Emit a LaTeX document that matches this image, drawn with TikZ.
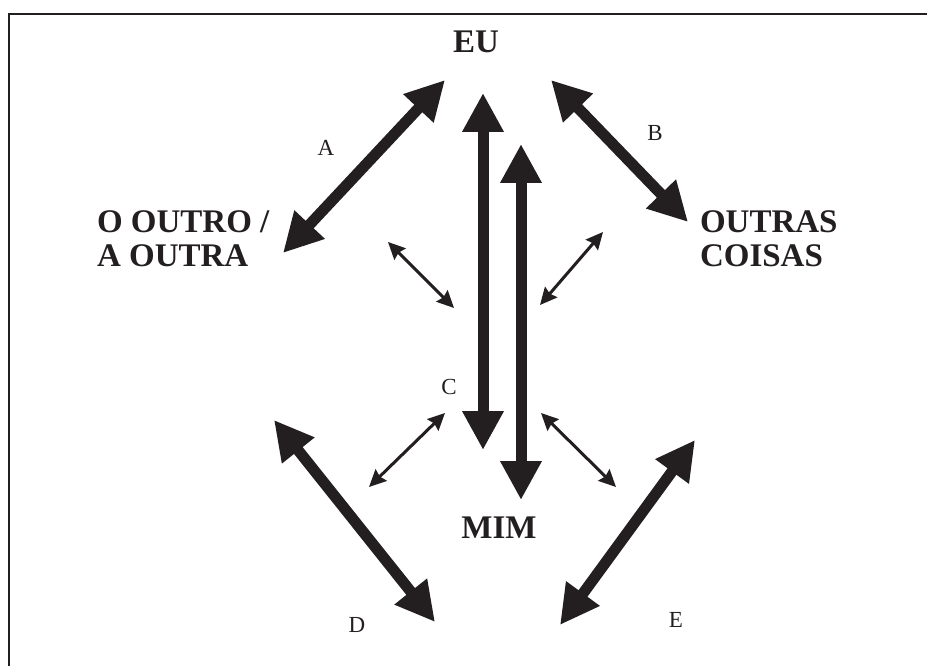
\documentclass[tikz,border=0pt]{standalone}
\usepackage{fontspec}
\setmainfont{Liberation Serif}
\usetikzlibrary{arrows.meta}
\definecolor{ink}{HTML}{231F20}

\begin{document}
\begin{tikzpicture}[x=1pt,y=-1pt]
\tikzset{every node/.style={inner sep=0pt, outer sep=0pt, text=ink}}
\tikzset{bigword/.style={font=\fontsize{33}{34}\selectfont\bfseries, align=left}}
\tikzset{letter/.style={font=\fontsize{23}{23}\selectfont}}
\tikzset{bigarrow/.style={draw=ink, line width=11pt, {Triangle[width=39pt,length=39pt]}-{Triangle[width=39pt,length=39pt]}}}
\tikzset{smallarrow/.style={draw=ink, line width=3pt, {Stealth[width=16pt,length=17pt,inset=2pt]}-{Stealth[width=16pt,length=17pt,inset=2pt]}}}
\useasboundingbox (0,0) rectangle (927,666);
%%%%%% frame
\draw[ink, line width=1.6pt] (927,14) -- (9,14) -- (9,666);

%%%%%% words
\node(eu)at(476,53)[bigword,anchor=base]{EU};
\node(outro)at(97,211)[bigword,anchor=north west]{O OUTRO /\\A OUTRA};
\node(coisas)at(700,211)[bigword,anchor=north west]{OUTRAS\\COISAS};
\node(mim)at(499,538)[bigword,anchor=base]{MIM};

%%%%%% letters
\node(la)at(326,148)[letter]{A};
\node(lb)at(655,133)[letter]{B};
\node(lc)at(449,387)[letter]{C};
\node(ld)at(357,625)[letter]{D};
\node(le)at(676,620)[letter]{E};

%%%%%% arrow ends
\coordinate(a1)at(445,80);  \coordinate(a2)at(283,253);
\coordinate(b1)at(551,80);  \coordinate(b2)at(688,222);
\coordinate(v1)at(483,93);  \coordinate(v2)at(483,450);
\coordinate(w1)at(521,144); \coordinate(w2)at(521,500);
\coordinate(d1)at(274,420); \coordinate(d2)at(435,622);
\coordinate(e1)at(695,440); \coordinate(e2)at(560,625);
\coordinate(s1)at(388,242); \coordinate(s2)at(454,308);
\coordinate(t1)at(603,232); \coordinate(t2)at(540,305);
\coordinate(p1)at(445,413); \coordinate(p2)at(369,487);
\coordinate(q1)at(541,413); \coordinate(q2)at(616,487);

%%%%%% big arrows
\path (a1) edge[bigarrow] (a2);
\path (b1) edge[bigarrow] (b2);
\path (v1) edge[bigarrow] (v2);
\path (w1) edge[bigarrow] (w2);
\path (d1) edge[bigarrow] (d2);
\path (e1) edge[bigarrow] (e2);
%%%%%% small arrows
\path (s1) edge[smallarrow] (s2);
\path (t1) edge[smallarrow] (t2);
\path (p1) edge[smallarrow] (p2);
\path (q1) edge[smallarrow] (q2);
\end{tikzpicture}
\end{document}
